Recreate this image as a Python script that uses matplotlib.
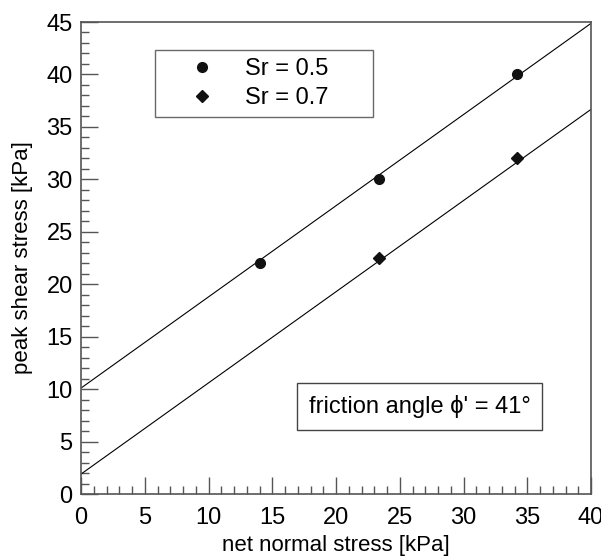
import numpy as np
import matplotlib.pyplot as plt
from matplotlib.ticker import MultipleLocator

plt.rcParams['font.family'] = ['Liberation Sans', 'DejaVu Sans']

# measured peak shear stress
x_05 = [14.0, 23.4, 34.2]
y_05 = [22.0, 30.0, 40.0]
x_07 = [23.4, 34.2]
y_07 = [22.5, 32.0]

# failure envelopes
phi = 41.0
c_05 = 10.1
c_07 = 1.9
x_line = np.array([0, 40])

fig = plt.figure(figsize=(6.01, 5.57), dpi=100)
ax = fig.add_axes([0.1348, 0.1131, 0.8486, 0.8474])

slope = np.tan(np.radians(phi))
ax.plot(x_line, c_05 + slope * x_line, color='black', lw=0.8)
ax.plot(x_line, c_07 + slope * x_line, color='black', lw=0.8)
ax.plot(x_05, y_05, 'o', color='#111111', ms=7, ls='none', label='Sr = 0.5')
ax.plot(x_07, y_07, 'D', color='#111111', ms=6, ls='none', label='Sr = 0.7')

ax.set_xlim(0, 40)
ax.set_ylim(0, 45)
ax.xaxis.set_major_locator(MultipleLocator(5))
ax.xaxis.set_minor_locator(MultipleLocator(1))
ax.yaxis.set_major_locator(MultipleLocator(5))
ax.yaxis.set_minor_locator(MultipleLocator(1))
ax.tick_params(which='both', direction='in', color='#555555', top=False, right=False,
               labelsize=17)
ax.tick_params(axis='x', pad=9)
ax.tick_params(axis='y', pad=6)
ax.tick_params(which='major', length=12, width=1)
ax.tick_params(which='minor', length=6, width=1)
for s in ax.spines.values():
    s.set_color('#555555')
    s.set_linewidth(1.2)

ax.set_xlabel('net normal stress [kPa]', fontsize=16, labelpad=5)
ax.set_ylabel('peak shear stress [kPa]', fontsize=16, labelpad=10)

leg = ax.legend(loc='upper left', bbox_to_anchor=(0.145, 0.807, 0.428, 0.134),
                mode='expand', fontsize=17, frameon=True, fancybox=False,
                borderpad=0.35, handletextpad=0.15, handlelength=3.3,
                labelspacing=0.3, borderaxespad=0)
leg.get_frame().set_edgecolor('#444444')
leg.get_frame().set_linewidth(1)

ax.text(26.55, 8.34, "friction angle ϕ' = 41°", fontsize=17, ha='center', va='center',
        bbox=dict(boxstyle='square,pad=0.5', fc='white', ec='#444444', lw=1))

fig.savefig('out.png', dpi=100)
